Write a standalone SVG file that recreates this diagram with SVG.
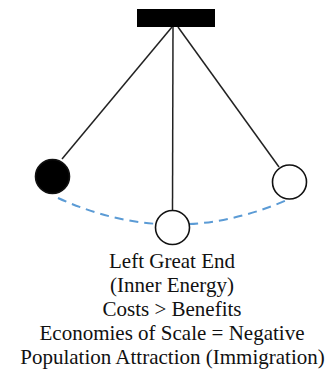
<svg xmlns="http://www.w3.org/2000/svg" width="330" height="370" viewBox="0 0 330 370">
<style>
.str{stroke:#222;stroke-width:1.5;fill:none}
.ball{stroke:#111;stroke-width:1.6}
.lbl{font-family:"Liberation Serif","Times New Roman",serif;font-size:21px;fill:#111;text-anchor:middle}
</style>
<rect width="330" height="370" fill="#fff"/>
<g id="connectors">
<path class="str" d="M172,27 L62,159"/>
<path class="str" d="M173,27 L172.5,210"/>
<path class="str" d="M178,27 L279,167"/>
<path d="M58,198 Q172,250 287,200" fill="none" stroke="#5b9bd5" stroke-width="2" stroke-dasharray="9,6"/>
</g>
<g id="support"><rect x="137" y="9" width="78" height="18" fill="#000"/></g>
<g id="ball-left"><circle class="ball" cx="52.5" cy="176.5" r="17" fill="#000"/></g>
<g id="ball-middle"><circle class="ball" cx="172.5" cy="227.5" r="17" fill="#fff"/></g>
<g id="ball-right"><circle class="ball" cx="289.5" cy="182" r="17" fill="#fff"/></g>
<g id="label">
<text class="lbl" x="172" y="268">Left Great End</text>
<text class="lbl" x="172" y="292">(Inner Energy)</text>
<text class="lbl" x="172" y="316">Costs &gt; Benefits</text>
<text class="lbl" x="172" y="340">Economies of Scale = Negative</text>
<text class="lbl" x="172.5" y="364">Population Attraction (Immigration)</text>
</g>
</svg>
